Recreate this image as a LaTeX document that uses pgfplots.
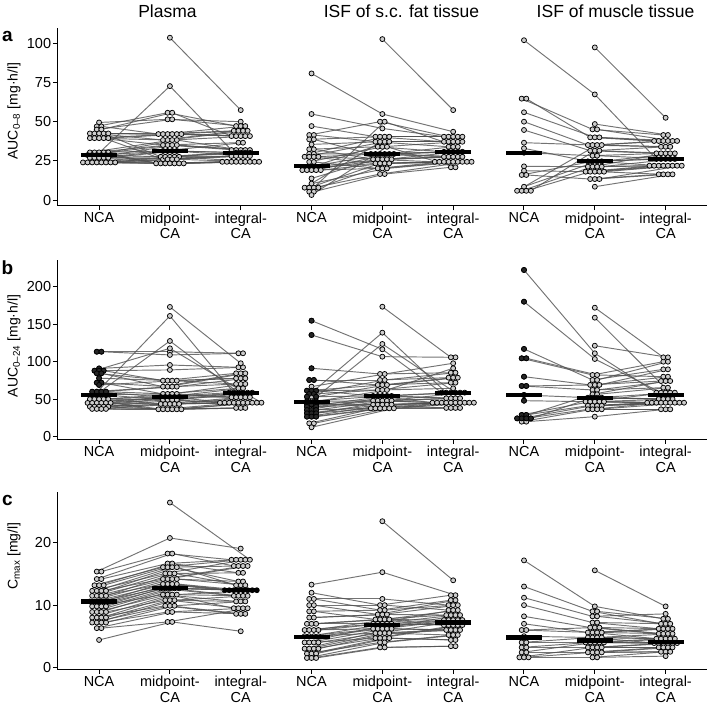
\documentclass[border=0pt]{standalone}
\usepackage{fontspec}
\setmainfont{Liberation Sans}
\usepackage{pgfplots}
\usepackage{pgfplotstable}
\pgfplotsset{compat=1.18}
\definecolor{dotfill}{RGB}{205,205,205}
\definecolor{linegray}{RGB}{80,80,80}

\pgfplotsset{
 rowaxis/.style={
   scale only axis, anchor=south west, width=649.4pt,
   xmin=0.41, xmax=9.58,
   axis x line=bottom, axis y line=left,
   axis line style={-, line width=1pt, black},
   tick align=outside, major tick length=4.5pt,
   tick style={line width=1pt, black},
   xtick={1,...,9},
   xticklabels={NCA,{midpoint-\\CA},{integral-\\CA},NCA,{midpoint-\\CA},{integral-\\CA},NCA,{midpoint-\\CA},{integral-\\CA}},
   xticklabel style={align=center, font=\fontsize{14.5}{15.5}\selectfont, inner sep=2pt},
   yticklabel style={font=\fontsize{14.5}{16}\selectfont, inner sep=1.5pt},
   /pgf/number format/assume math mode=true,
   clip=false,
 },
 pairline/.style={draw=linegray, line width=0.95pt, opacity=0.8, mark=none},
 dot/.style={only marks, mark=*, mark size=2.5pt, mark options={draw=black, line width=0.75pt, fill=dotfill}},
 blackdot/.style={only marks, mark=*, mark size=2.5pt, mark options={draw=black, line width=0.75pt, fill=black!85}},
 medbar/.style={only marks, mark=-, mark size=18pt, mark options={draw=black, line width=4.2pt}},
}

\newcommand\panellines[2]{%
 \addplot[pairline, quiver={u={1+0.065*(\thisrow{s2}-\thisrow{s1})}, v={\thisrow{y2}-\thisrow{y1}}}]
   table[x expr={#2+1+0.065*\thisrow{s1}}, y=y1] {#1};
 \addplot[pairline, quiver={u={1+0.065*(\thisrow{s3}-\thisrow{s2})}, v={\thisrow{y3}-\thisrow{y2}}}]
   table[x expr={#2+2+0.065*\thisrow{s2}}, y=y2] {#1};
}
\newcommand\paneldots[2]{%
 \addplot[dot] table[x expr={#2+1+0.065*\thisrow{s1}}, y=y1] {#1};
 \addplot[dot] table[x expr={#2+2+0.065*\thisrow{s2}}, y=y2] {#1};
 \addplot[dot] table[x expr={#2+3+0.065*\thisrow{s3}}, y=y3] {#1};
}
\newcommand\blackdots[2]{%
 \addplot[blackdot, restrict expr to domain={\thisrow{f}}{0.5:1.5}] table[x expr={#2+1+0.065*\thisrow{s1}}, y=y1] {#1};
}

% ---------------- Row a: AUC 0-8 ----------------
\pgfplotstableread{
s1 y1 s2 y2 s3 y3
0 49.5 -0.5 51.5 0 50
-0.5 47 -0.5 55.7 -1 47.2
0.5 47 -2.5 42.1 -1.5 44.2
-0.5 45 0.5 51.5 0 47.2
0.5 45 0.5 55.7 -2 40.8
-2 42.5 -1.5 42.1 1 47.2
-1 42.5 -1.5 38.3 -0.5 44.2
0 42.5 -0.5 42.1 -1 40.8
1 42.5 -2 27.6 -2 30.2
2 42.5 0.5 42.1 0.5 44.2
-2 39.5 1.5 42.1 0 40.8
-1 39.5 -0.5 38.3 1.5 44.2
0 39.5 -1.5 35.1 -0.5 36.6
1 39.5 -1.5 26 -2 28.1
2 39.5 2.5 42.1 1 40.8
-2 30.4 0.5 38.3 2 40.8
-1 30.4 -0.5 35.1 -1 31.9
0 30.4 -1.5 31.3 0.5 36.6
1 30.4 -3 23.4 -4 24.4
2 30.4 1.5 38.3 0 31.9
-2.5 28.7 0.5 35.1 1 31.9
-1.5 28.7 -1 27.6 -1 30.2
-0.5 28.7 0 72.7 -2 31.9
0.5 28.7 -0.5 31.3 0 30.2
1.5 28.7 -2 23.4 -3 24.4
2.5 28.7 1.5 35.1 2 31.9
-2 27 0 27.6 1 30.2
-1 27 0.5 31.3 2 30.2
0 27 -1 23.4 -2 24.4
1 27 -0.5 26 -1 28.1
2 27 1.5 31.3 0 28.1
-3.5 24 0 23.4 -1 24.4
-2.5 24 1 27.6 1 28.1
-1.5 24 1 23.4 0 24.4
-0.5 24 0.5 26 2 28.1
0.5 24 2 23.4 1 24.4
1.5 24 2 27.6 2 24.4
2.5 24 1.5 26 3 24.4
3.5 24 3 23.4 4 24.4
nan nan 0 103.6 0 57.4
}\tPa
\pgfplotstableread{
s1 y1 s2 y2 s3 y3
0 80.8 0 54.9 0 43.6
0 54.9 0 45.7 -2 40.4
0 47.2 -1.5 40.4 -2 37.2
-0.5 41.5 -0.5 50 -1 40.4
0.5 41.5 -1.5 37.2 -1 34
-0.5 38.7 -0.5 40.4 0 40.4
0.5 38.7 -2.5 29.4 -2 27.6
0 35.5 -0.5 37.2 -1 37.2
-0.5 32.4 -1 34 -2 30.8
0.5 32.4 -2 26 -4 24.4
-0.5 29.5 0.5 40.4 1 40.4
0.5 29.5 -1.5 29.4 -1 30.8
-1.5 27.6 0.5 37.2 0 37.2
-0.5 27.6 -1.5 23.4 -3 24.4
0.5 27.6 -0.5 29.4 0 30.8
1.5 27.6 -1 26 -1 27.6
-0.5 24.3 0 34 1 37.2
0.5 24.3 -1 20.2 -2 24.4
-1 21 0.5 29.4 0 34
0 21 0 26 0 27.6
1 21 -0.5 23.4 -1 24.4
-2 19.1 1.5 37.2 2 37.2
-1 19.1 1 26 1 30.8
0 19.1 0 20.2 0 24.4
1 19.1 1.5 29.4 2 30.8
2 19.1 0.5 23.4 1 24.4
0 13.8 2.5 29.4 1 27.6
0 10.5 1 20.2 2 24.4
-1.5 7.9 1.5 40.4 2 40.4
-0.5 7.9 2 26 2 27.6
0.5 7.9 -0.5 16.6 3 24.4
1.5 7.9 1.5 23.4 4 24.4
-0.5 5.3 0.5 50 1 34
0.5 5.3 0.5 16.6 -0.5 20.9
0 3.2 1 34 0.5 20.9
nan nan 0 102.7 0 57.4
}\tFa
\pgfplotstableread{
s1 y1 s2 y2 s3 y3
0 102 0 67.4 -2 26.2
-0.5 64.7 -0.5 45.1 -0.5 41.5
0.5 64.7 -1 40 -2.5 37.7
0 56 0 40 -1.5 37.7
0 50 -1.5 35.1 -1 34
0 44.7 -1 31.5 -2 29.8
0 36.6 -0.5 35.1 -0.5 37.7
0 33 -1.5 24.7 -1 26.2
0 30.2 -0.5 28.3 -1 29.8
0 21.5 -1.5 21.3 -3.5 21.9
0 18.7 -2 18.1 -2.5 21.9
-0.5 16 -0.5 24.7 0 26.2
0.5 16 -1 13.4 -1.5 16.4
0 8.5 0.5 24.7 -1.5 21.9
-1.5 5.9 0.5 35.1 0.5 37.7
-0.5 5.9 -0.5 21.3 0 29.8
0.5 5.9 -1 18.1 -0.5 21.9
1.5 5.9 0 31.5 0 34
nan nan 0 97.4 0 52.5
nan nan 0 48.5 0.5 41.5
nan nan 0.5 45.1 1.5 37.7
nan nan 1 40 2.5 37.7
nan nan 1.5 35.1 1 34
nan nan 1 31.5 1 29.8
nan nan 0.5 28.3 1 26.2
nan nan 1.5 24.7 2 29.8
nan nan 0.5 21.3 0.5 21.9
nan nan 1.5 21.3 2 26.2
nan nan 0 18.1 1.5 21.9
nan nan 1 18.1 -0.5 16.4
nan nan 2 18.1 2.5 21.9
nan nan 0 13.4 0.5 16.4
nan nan 1 13.4 3.5 21.9
nan nan 0 8.5 1.5 16.4
}\tMa

% ---------------- Row b: AUC 0-24 ----------------
\pgfplotstableread{
s1 y1 f s2 y2 s3 y3
-0.5 113.3 1 0 113.3 -0.5 111.2
0.5 113.3 1 0 109 0.5 111.2
0 91 1 0 95.6 -0.5 92.5
-1 88 1 0 117.8 4.5 45.3
0 88 1 0 89 0.5 92.5
1 88 1 -1.5 74.7 -1 84.5
-0.5 84.5 1 -0.5 74.7 -1 77.8
0.5 84.5 1 -1.5 66.7 0 84.5
0 78 1 0.5 74.7 -1 70.3
-0.5 72 1 -0.5 66.7 1 84.5
0.5 72 1 -1.5 57 -0.5 64.5
0 69 1 1.5 74.7 0 77.8
-1.5 60 1 0.5 66.7 0 70.3
-0.5 60 1 -2 53 -2.5 58.7
0.5 60 1 1.5 66.7 1 77.8
1.5 60 1 -0.5 57 -2 52.5
-1 56 0 0 161 -1.5 58.7
0 56 0 0.5 57 1 70.3
1 56 0 -1.5 49 -4.5 45.3
-2 50 0 0 127.6 -0.5 58.7
-1 50 0 -1 53 0.5 64.5
0 50 0 -2 43.6 -3.5 45.3
1 50 0 1.5 57 -1 52.5
2 50 0 -0.5 49 0.5 58.7
-2.5 45 0 0 53 -2.5 45.3
-1.5 45 0 -2.5 36.5 -1 38.3
-0.5 45 0 -1 43.6 0 52.5
0.5 45 0 1 53 1.5 58.7
1.5 45 0 0.5 49 -1.5 45.3
2.5 45 0 -1.5 36.5 -0.5 45.3
-2 40 0 2 53 1 52.5
-1 40 0 0 43.6 0.5 45.3
0 40 0 -0.5 36.5 0 38.3
1 40 0 1.5 49 2.5 58.7
2 40 0 1 43.6 1.5 45.3
-1.5 37 0 0.5 36.5 2.5 45.3
-0.5 37 0 2 43.6 2 52.5
0.5 37 0 1.5 36.5 3.5 45.3
1.5 37 0 2.5 36.5 1 38.3
nan nan 0 0 173 0 97.9
}\tPb
\pgfplotstableread{
s1 y1 f s2 y2 s3 y3
0 154.7 1 0 116.5 -2.5 58.7
0 135.6 1 0 106.7 0.5 105.8
0 91.2 1 -0.5 83.6 -0.5 85.3
-0.5 75.6 1 -0.5 75.6 -1 78.7
0.5 75.6 1 -1 69 -0.5 72
0 66.7 0 0.5 83.6 0 97.9
-1 61.3 1 0 69 0 78.7
0 61.3 1 -1 62.3 0.5 72
1 61.3 1 -2 54.3 -1.5 51.2
-0.5 57 1 0.5 75.6 0.5 85.3
0.5 57 1 0 62.3 0 64.5
-1 53.3 1 0 138.7 -1.5 58.7
0 53.3 0 -1 54.3 -4.5 45.3
1 53.3 1 1 69 1 78.7
-1 47 1 0 54.3 -0.5 58.7
0 47 0 -2 48 -3.5 45.3
1 47 1 1 62.3 0 91.2
-1 43 1 0 123.6 0.5 58.7
0 43 1 -1 48 -2.5 45.3
1 43 1 -2 42.7 -1.5 38.3
-1 40 1 1 54.3 1.5 58.7
0 40 0 0 48 -0.5 51.2
1 40 1 -1 42.7 -1.5 45.3
-1 35.6 1 2 54.3 0.5 51.2
0 35.6 1 -2.5 37.8 -0.5 45.3
1 35.6 1 1 48 2.5 58.7
-1 31.2 1 0 42.7 0.5 45.3
0 31.2 1 -1.5 37.8 -0.5 38.3
1 31.2 1 2 48 1.5 51.2
-1 26.7 1 1 42.7 1.5 45.3
0 26.7 1 -0.5 37.8 2.5 45.3
1 26.7 1 0.5 37.8 0.5 38.3
-0.5 17.8 0 2 42.7 3.5 45.3
0.5 17.8 0 1.5 37.8 1.5 38.3
0 12.5 0 2.5 37.8 4.5 45.3
nan nan 0 0 173.3 -0.5 105.8
}\tFb
\pgfplotstableread{
s1 y1 f s2 y2 s3 y3
0 222.3 1 0 111.2 -2 58.7
0 180 1 0 103.6 -1 58.7
0 117 1 -0.5 75.6 -0.5 89.8
-0.5 104.5 1 -0.5 82.3 -0.5 100
0.5 104.5 1 0.5 82.3 -0.5 80
0 80 1 -1 69 -1 74.2
-0.5 67.6 1 -0.5 62.3 -0.5 65.3
0.5 67.6 1 0 69 0.5 80
0 55.6 1 -1.5 52 -1.5 50.2
0 48 1 -2 46.7 -4 45.3
-0.5 29 1 -1 46.7 0 58.7
0.5 29 1 -1.5 41.3 -3 45.3
-1.5 24.4 1 -0.5 56.5 0 74.2
-0.5 24.4 1 -0.5 41.3 -2 45.3
0.5 24.4 1 -1.5 36.5 -1 36.5
1.5 24.4 1 -0.5 52 -0.5 50.2
-0.5 20 0 -0.5 36.5 -1 45.3
0.5 20 0 0 26.7 0 36.5
nan nan 0 0 172 -0.5 105.8
nan nan 0 0 158.7 1 58.7
nan nan 0 0 121.3 0.5 105.8
nan nan 0 0.5 75.6 0.5 100
nan nan 0 1 69 0.5 89.8
nan nan 0 0.5 62.3 1 74.2
nan nan 0 0.5 56.5 0.5 65.3
nan nan 0 0.5 52 2 58.7
nan nan 0 1.5 52 0.5 50.2
nan nan 0 0 46.7 1.5 50.2
nan nan 0 1 46.7 0 45.3
nan nan 0 2 46.7 1 45.3
nan nan 0 0.5 41.3 2 45.3
nan nan 0 1.5 41.3 3 45.3
nan nan 0 0.5 36.5 4 45.3
nan nan 0 1.5 36.5 1 36.5
}\tMb

% ---------------- Row c: Cmax ----------------
\pgfplotstableread{
s1 y1 s2 y2 s3 y3
-0.5 15.4 0 20.8 0 19.1
0.5 15.4 -0.5 18.3 -2 17.3
-0.5 14.2 0.5 18.3 -1.5 16.3
0.5 14.2 -0.5 16.7 -1 17.3
-1 13.2 -1.5 16.1 0 17.3
0 13.2 0.5 16.7 -0.5 15.2
1 13.2 -0.5 16.1 -0.5 16.3
-1.5 12.3 -1 15.1 1 17.3
-0.5 12.3 0.5 16.1 -0.5 13.8
0.5 12.3 -1.5 14.2 0.5 16.3
1.5 12.3 1.5 16.1 -1 13.2
-1.5 11.5 0 15.1 0.5 15.2
-0.5 11.5 -0.5 14.2 1.5 16.3
0.5 11.5 -1.5 13.4 -3.5 12.4
1.5 11.5 1 15.1 0 13.2
-2 10.6 0.5 14.2 0.5 13.8
-1 10.6 -0.5 13.4 -2.5 12.4
0 10.6 -2 12.7 -1.5 11.5
1 10.6 1.5 14.2 1 13.2
2 10.6 0.5 13.4 -1.5 12.4
-1.5 9.8 -1 12.7 -0.5 12.4
-0.5 9.8 -1.5 11.7 -1 10.6
0.5 9.8 1.5 13.4 0.5 12.4
1.5 9.8 0 12.7 -0.5 11.5
-1.5 8.9 1 12.7 1.5 12.4
-0.5 8.9 -0.5 11.7 -1.5 9.5
0.5 8.9 2 12.7 2.5 12.4
1.5 8.9 -1 10.8 0 10.6
-1.5 8 0.5 11.7 0.5 11.5
-0.5 8 -1 9.9 -1 8.6
0.5 8 1.5 11.7 3.5 12.4
1.5 8 0 10.8 -0.5 9.5
-1.5 7.2 0 9.9 0 8.6
-0.5 7.2 1 10.8 1.5 11.5
0.5 7.2 -0.5 8.9 0.5 9.5
1.5 7.2 1 9.9 1 10.6
-0.5 6.3 0.5 8.9 1 8.6
0.5 6.3 -0.5 7.3 1.5 9.5
0 4.4 0.5 7.3 0 5.8
nan nan 0 26.5 2 17.3
}\tPc
\pgfplotstableread{
s1 y1 s2 y2 s3 y3
0 13.3 0 15.3 0.5 11.6
0 12 -0.5 10 -0.5 11.6
-0.5 11 0 11 -1 10
0.5 11 -0.5 9.2 -0.5 10.8
-0.5 10 0.5 10 -1 9.2
0.5 10 -1 8.5 0.5 10.8
-0.5 9 0.5 9.2 0 10
0.5 9 -1.5 7.7 -1.5 8.4
-0.5 8 0 8.5 1 10
0.5 8 1 8.5 -0.5 8.4
-1 7 -2 7 0 9.2
0 7 -0.5 7.7 -2 7.6
1 7 0.5 7.7 1 9.2
-1.5 6 -1 7 0.5 8.4
-0.5 6 -2 6.2 -1 7.6
0.5 6 1.5 7.7 -2 6.8
1.5 6 0 7 0 7.6
-1.5 5 -1 6.2 1.5 8.4
-0.5 5 1 7 -1 6.8
0.5 5 -1.5 5.5 -1.5 6
1.5 5 0 6.2 1 7.6
-1.5 4 2 7 0 6.8
-0.5 4 1 6.2 -0.5 6
0.5 4 -1.5 4.7 1 6.8
1.5 4 -0.5 5.5 2 7.6
-1.5 3 2 6.2 0.5 6
-0.5 3 0.5 5.5 -1 5.2
0.5 3 -0.5 4.7 2 6.8
1.5 3 1.5 5.5 1.5 6
-1 2.2 -0.5 4 0 5.2
0 2.2 0.5 4.7 -0.5 4.4
1 2.2 1.5 4.7 0.5 4.4
-1 1.5 0.5 4 1 5.2
0 1.5 -0.5 3.2 -0.5 3.4
1 1.5 0.5 3.2 0.5 3.4
nan nan 0 23.5 0 14
}\tFc
\pgfplotstableread{
s1 y1 s2 y2 s3 y3
0 17.2 0 9.8 -0.5 7.8
0 13 -0.5 9 -1 7
0 11.2 -0.5 8.2 0 8.6
0 10 -0.5 7.2 -1.5 6.2
0 8.2 -1 6.4 -1.5 5.4
0 7 -1.5 5.6 -0.5 6.2
-0.5 6 -0.5 5.6 -2 4.6
0.5 6 0 6.4 -0.5 5.4
0 5 -1.5 4.8 -1 4.6
-0.5 4 -0.5 4.8 -2.5 3.9
0.5 4 -2 4 0 4.6
-0.5 3.2 -1 4 -1.5 3.9
0.5 3.2 -1.5 3.2 -1.5 3.2
-0.5 2.4 0 4 -0.5 3.9
0.5 2.4 -1.5 2.4 -0.5 3.2
-1 1.6 -0.5 3.2 0.5 3.9
0 1.6 -0.5 2.4 -1 2.5
1 1.6 -0.5 1.6 0 2.5
nan nan 0 15.6 0 9.8
nan nan 0.5 9 0.5 7.8
nan nan 0.5 8.2 0 7
nan nan 0.5 7.2 1 7
nan nan 1 6.4 0.5 6.2
nan nan 0.5 5.6 1.5 6.2
nan nan 1.5 5.6 0.5 5.4
nan nan 0.5 4.8 1.5 5.4
nan nan 1.5 4.8 1 4.6
nan nan 1 4 2 4.6
nan nan 2 4 1.5 3.9
nan nan 0.5 3.2 2.5 3.9
nan nan 1.5 3.2 0.5 3.2
nan nan 0.5 2.4 1.5 3.2
nan nan 1.5 2.4 1 2.5
nan nan 0.5 1.6 0 1.8
}\tMc

\begin{document}
\begin{tikzpicture}
\useasboundingbox (0,0) rectangle (708pt,706pt);

% Row a
\begin{axis}[rowaxis, at={(57.3pt,500pt)}, height=177.7pt,
  ymin=-3.8, ymax=109.6, ytick={0,25,50,75,100}]
 \panellines{\tPa}{0}
 \panellines{\tFa}{3}
 \panellines{\tMa}{6}
 \paneldots{\tPa}{0}
 \paneldots{\tFa}{3}
 \paneldots{\tMa}{6}
 \addplot[medbar] coordinates {(1,28.7) (2,31.3) (3,30.2) (4,21.7) (5,29.4) (6,30.8) (7,30.2) (8,24.7) (9,26.2)};
\end{axis}

% Row b
\begin{axis}[rowaxis, at={(57.3pt,266.7pt)}, height=179.3pt,
  ymin=-3.5, ymax=235.6, ytick={0,50,100,150,200}]
 \panellines{\tPb}{0}
 \panellines{\tFb}{3}
 \panellines{\tMb}{6}
 \paneldots{\tPb}{0}
 \paneldots{\tFb}{3}
 \paneldots{\tMb}{6}
 \blackdots{\tPb}{0}
 \blackdots{\tFb}{3}
 \blackdots{\tMb}{6}
 \addplot[medbar] coordinates {(1,55.6) (2,53.3) (3,58) (4,46.3) (5,54.3) (6,57.8) (7,55.6) (8,52) (9,55.2)};
\end{axis}

% Row c
\begin{axis}[rowaxis, at={(57.3pt,36.7pt)}, height=177.3pt,
  ymin=-0.32, ymax=28.2, ytick={0,10,20}]
 \panellines{\tPc}{0}
 \panellines{\tFc}{3}
 \panellines{\tMc}{6}
 \paneldots{\tPc}{0}
 \paneldots{\tFc}{3}
 \paneldots{\tMc}{6}
 \addplot[medbar] coordinates {(1,10.6) (2,12.7) (3,12.4) (4,4.9) (5,6.8) (6,7.2) (7,4.8) (8,4.3) (9,4.1)};
\end{axis}

% column titles
\node[font=\fontsize{17.5}{20}\selectfont] at (167.5pt,695pt) {Plasma};
\node[font=\fontsize{17.5}{20}\selectfont] at (401.5pt,695pt) {ISF of s.c. fat tissue};
\node[font=\fontsize{17.5}{20}\selectfont] at (615.5pt,695pt) {ISF of muscle tissue};

% panel letters
\node[font=\bfseries\fontsize{19}{20}\selectfont] at (7.5pt,670pt) {a};
\node[font=\bfseries\fontsize{19}{20}\selectfont] at (7.5pt,438pt) {b};
\node[font=\bfseries\fontsize{19}{20}\selectfont] at (7.5pt,206pt) {c};

% y labels
\node[rotate=90, font=\fontsize{14}{15}\selectfont] at (14pt,595pt) {AUC\textsubscript{0–8} [mg·h/l]};
\node[rotate=90, font=\fontsize{14}{15}\selectfont] at (14pt,360pt) {AUC\textsubscript{0–24} [mg·h/l]};
\node[rotate=90, font=\fontsize{14}{15}\selectfont] at (14pt,150pt) {C\textsubscript{max} [mg/l]};
\end{tikzpicture}
\end{document}
